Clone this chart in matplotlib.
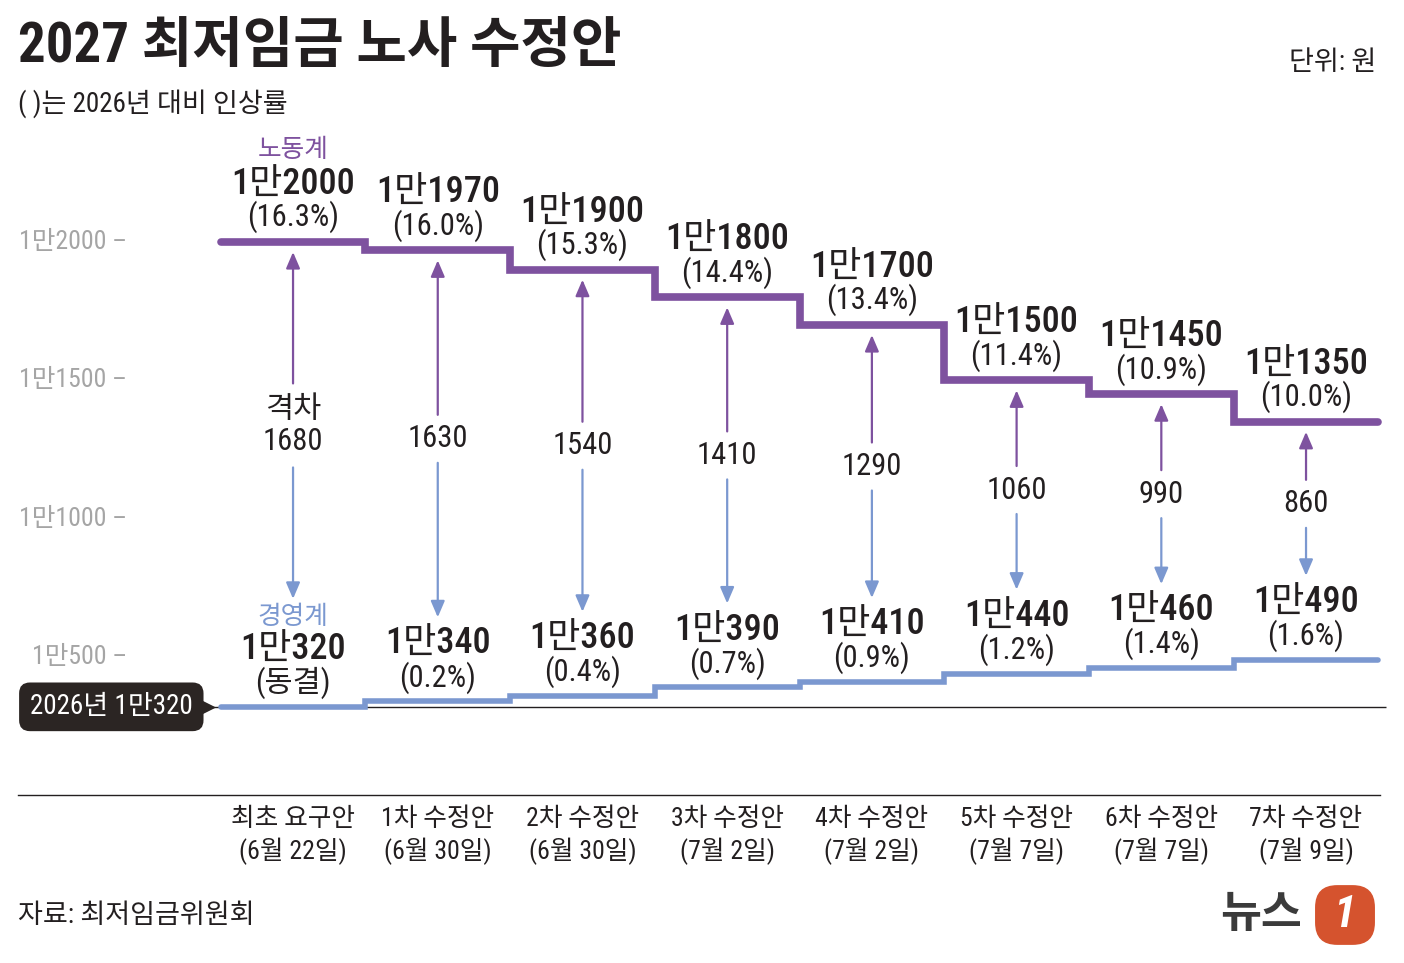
import matplotlib
matplotlib.use('Agg')
import matplotlib.pyplot as plt
import matplotlib.transforms as mtransforms
from matplotlib import font_manager
import numpy as np

# font: narrow latin for digits, Noto CJK for hangul
installed = {f.name for f in font_manager.fontManager.ttflist}
narrow = [n for n in ['Liberation Sans Narrow', 'Roboto Condensed'] if n in installed]
plt.rcParams['font.family'] = narrow + ['Noto Sans CJK KR', 'DejaVu Sans']

# data
steps = ['최초 요구안', '1차 수정안', '2차 수정안', '3차 수정안',
         '4차 수정안', '5차 수정안', '6차 수정안', '7차 수정안']
dates = ['6월 22일', '6월 30일', '6월 30일', '7월 2일',
         '7월 2일', '7월 7일', '7월 7일', '7월 9일']
labor = [12000, 11970, 11900, 11800, 11700, 11500, 11450, 11350]
labor_pct = ['16.3%', '16.0%', '15.3%', '14.4%', '13.4%', '11.4%', '10.9%', '10.0%']
mgmt = [10320, 10340, 10360, 10390, 10410, 10440, 10460, 10490]
mgmt_pct = ['동결', '0.2%', '0.4%', '0.7%', '0.9%', '1.2%', '1.4%', '1.6%']
base_2026 = 10320
y_ticks = [10500, 11000, 11500, 12000]

PURPLE = '#7e529f'
BLUE = '#7b98d0'
DARK = '#231f20'
GRAY = '#a5a5a5'

W, H = 1404, 963
fig = plt.figure(figsize=(W / 100, H / 100), dpi=100)
fig.patch.set_facecolor('white')
ax = fig.add_axes([0, 0, 1, 1])
ax.set_xlim(-2.025, 7.677)
ax.set_ylim(9394, 12875)
ax.axis('off')

wpp = (12875 - 9394) / H  # won per pixel
x = np.arange(len(steps))
edges = np.arange(len(steps) + 1) - 0.5
gap = [l - m for l, m in zip(labor, mgmt)]

xdata_yaxes = mtransforms.blended_transform_factory(ax.transData, ax.transAxes)
xaxes_ydata = mtransforms.blended_transform_factory(ax.transAxes, ax.transData)

# base line and bottom rule
ax.hlines(base_2026, -0.6, 7.55, color=DARK, lw=1, zorder=2)
ax.plot([18 / W, 1380 / W], [10000, 10000], color=DARK, lw=1, transform=xaxes_ydata)

# step lines
ax.stairs(labor, edges, baseline=None, color=PURPLE, linewidth=5.5,
          capstyle='round', joinstyle='miter', zorder=3)
ax.stairs(mgmt, edges, baseline=None, color=BLUE, linewidth=4,
          capstyle='round', joinstyle='miter', zorder=3)

# y tick labels
for v in y_ticks:
    ax.text(127 / W, v, f'1만{v - 10000} –', transform=xaxes_ydata,
            ha='right', va='center', fontsize=18.5, color=GRAY)

# value labels
for i in x:
    ax.annotate(f'1만{labor[i] - 10000}', (i, labor[i]), xytext=(0, 57),
                textcoords='offset pixels', ha='center', va='center',
                fontsize=26, weight='medium', color=DARK)
    ax.annotate(f'({labor_pct[i]})', (i, labor[i]), xytext=(0, 25),
                textcoords='offset pixels', ha='center', va='center',
                fontsize=22, color=DARK)
    ax.annotate(f'1만{mgmt[i] - 10000}', (i, mgmt[i]), xytext=(0, 57),
                textcoords='offset pixels', ha='center', va='center',
                fontsize=26, weight='medium', color=DARK)
    ax.annotate(f'({mgmt_pct[i]})', (i, mgmt[i]), xytext=(0, 24),
                textcoords='offset pixels', ha='center', va='center',
                fontsize=22, color=DARK)

ax.annotate('노동계', (0, labor[0]), xytext=(0, 92), textcoords='offset pixels',
            ha='center', va='center', fontsize=18.5, color=PURPLE)
ax.annotate('경영계', (0, mgmt[0]), xytext=(0, 90), textcoords='offset pixels',
            ha='center', va='center', fontsize=18.5, color=BLUE)

# gap arrows
for i in x:
    top_tip = labor[i] - 10 * wpp
    bot_tip = mgmt[i] + (108 if i == 0 else 84) * wpp
    mid = (top_tip + bot_tip) / 2
    label = f'격차\n{gap[i]}' if i == 0 else f'{gap[i]}'
    half = 42 if i == 0 else 24
    ax.text(i, mid, label, ha='center', va='center', fontsize=22,
            color=DARK, linespacing=1.1)
    ax.annotate('', xy=(i, top_tip), xytext=(i, mid + half * wpp),
                arrowprops=dict(arrowstyle='-|>,head_length=0.7,head_width=0.3',
                                color=PURPLE, lw=1.6, shrinkA=0, shrinkB=0,
                                mutation_scale=14))
    ax.annotate('', xy=(i, bot_tip), xytext=(i, mid - half * wpp),
                arrowprops=dict(arrowstyle='-|>,head_length=0.7,head_width=0.3',
                                color=BLUE, lw=1.6, shrinkA=0, shrinkB=0,
                                mutation_scale=14))

# 2026 label box with pointer
ax.annotate(f'2026년 1만{base_2026 - 10000}', (-0.5, base_2026), xytext=(-28, 0),
            textcoords='offset pixels', ha='right', va='center', fontsize=19.5,
            color='white',
            bbox=dict(boxstyle='round,pad=0.4,rounding_size=0.4', fc='#2b2523', ec='none'),
            zorder=4)
ptr = mtransforms.offset_copy(ax.transData, fig=fig, x=-15, y=0, units='dots')
ax.plot([-0.5], [base_2026], marker='>', markersize=11, color='#2b2523',
        transform=ptr, zorder=4)

# x labels
for i in x:
    ax.text(i, 1 - 836 / H, f'{steps[i]}\n({dates[i]})', transform=xdata_yaxes,
            ha='center', va='center', fontsize=18.5, color=DARK, linespacing=1.3)

# titles and notes
fig.text(18 / W, 1 - 47 / H, '2027 최저임금 노사 수정안', fontsize=39.5,
         weight='bold', color=DARK, va='center')
fig.text(18 / W, 1 - 104 / H, '( )는 2026년 대비 인상률', fontsize=19.5,
         color=DARK, va='center')
fig.text(1376 / W, 1 - 62 / H, '단위: 원', fontsize=19.5, color=DARK,
         ha='right', va='center')
fig.text(18 / W, 1 - 915 / H, '자료: 최저임금위원회', fontsize=19.5,
         color=DARK, va='center')

# logo
fig.text(1302 / W, 1 - 915 / H, '뉴스', fontsize=32, weight='bold',
         color='#3b3b3b', ha='right', va='center')
fig.text(1345 / W, 1 - 915 / H, ' 1 ', fontsize=32, weight='bold', style='italic',
         color='white', ha='center', va='center',
         bbox=dict(boxstyle='round,pad=0.2,rounding_size=0.5', fc='#d5532e', ec='none'))

fig.savefig('out.png', dpi=100)
